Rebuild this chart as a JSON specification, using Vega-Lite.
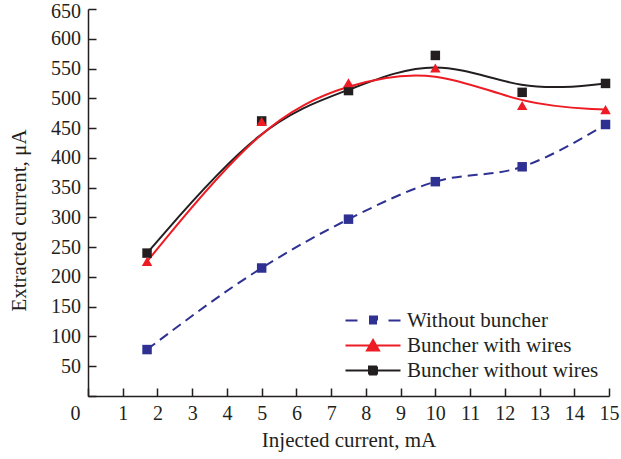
{
  "$schema": "https://vega.github.io/schema/vega-lite/v6.json",
  "width": 521,
  "height": 387,
  "autosize": {"type": "none"},
  "padding": {"left": 88, "top": 9, "right": 12, "bottom": 63},
  "background": "white",
  "config": {
    "font": "Liberation Serif",
    "view": {"stroke": null},
    "axis": {
      "grid": false,
      "domainColor": "#231f20",
      "domainWidth": 1.5,
      "tickColor": "#231f20",
      "tickWidth": 1.5,
      "labelFont": "Liberation Serif",
      "labelFontSize": 20,
      "labelColor": "#231f20",
      "titleFont": "Liberation Serif",
      "titleFontSize": 21,
      "titleFontWeight": "normal",
      "titleColor": "#231f20"
    },
    "legend": {
      "orient": "none",
      "legendX": 274.5,
      "legendY": 301,
      "labelFont": "Liberation Serif",
      "labelFontSize": 21,
      "labelColor": "#231f20",
      "labelLimit": 0,
      "labelOffset": 23.5,
      "symbolSize": 100,
      "symbolStrokeWidth": 2,
      "rowPadding": 3
    }
  },
  "data": {
    "values": [
      {"series": "Without buncher", "injected": 1.7, "extracted": 78},
      {"series": "Without buncher", "injected": 5.0, "extracted": 215},
      {"series": "Without buncher", "injected": 7.5, "extracted": 297},
      {"series": "Without buncher", "injected": 10.0, "extracted": 360},
      {"series": "Without buncher", "injected": 12.5, "extracted": 385},
      {"series": "Without buncher", "injected": 14.9, "extracted": 456},
      {"series": "Buncher with wires", "injected": 1.7, "extracted": 226},
      {"series": "Buncher with wires", "injected": 5.0, "extracted": 461},
      {"series": "Buncher with wires", "injected": 7.5, "extracted": 526},
      {"series": "Buncher with wires", "injected": 10.0, "extracted": 551},
      {"series": "Buncher with wires", "injected": 12.5, "extracted": 488},
      {"series": "Buncher with wires", "injected": 14.9, "extracted": 481},
      {"series": "Buncher without wires", "injected": 1.7, "extracted": 240},
      {"series": "Buncher without wires", "injected": 5.0, "extracted": 462},
      {"series": "Buncher without wires", "injected": 7.5, "extracted": 513},
      {"series": "Buncher without wires", "injected": 10.0, "extracted": 572},
      {"series": "Buncher without wires", "injected": 12.5, "extracted": 510},
      {"series": "Buncher without wires", "injected": 14.9, "extracted": 525}
    ]
  },
  "encoding": {
    "x": {
      "field": "injected",
      "type": "quantitative",
      "scale": {"domain": [0, 15], "nice": false},
      "axis": {
        "title": "Injected current, mA",
        "values": [0, 1, 2, 3, 4, 5, 6, 7, 8, 9, 10, 11, 12, 13, 14, 15],
        "tickSize": -8,
        "labelAngle": 0,
        "labelPadding": 15,
        "labelAlign": "center",
        "labelOffset": {"condition": {"test": "datum.value === 0", "value": -13}, "value": 0},
        "titleBaseline": "alphabetic",
        "titleY": 50
      }
    },
    "y": {
      "field": "extracted",
      "type": "quantitative",
      "scale": {"domain": [0, 650], "nice": false},
      "axis": {
        "title": "Extracted current,   μA",
        "values": [0, 50, 100, 150, 200, 250, 300, 350, 400, 450, 500, 550, 600, 650],
        "tickSize": -8,
        "labelExpr": "datum.value === 0 ? '' : datum.label",
        "labelPadding": 15.5,
        "labelOffset": {"condition": {"test": "datum.value === 650", "value": 2}, "value": 0},
        "titleBaseline": "alphabetic",
        "titleX": -63,
        "titleY": 211
      }
    },
    "color": {
      "field": "series",
      "type": "nominal",
      "scale": {
        "domain": ["Without buncher", "Buncher with wires", "Buncher without wires"],
        "range": ["#2e3192", "#ed1c24", "#231f20"]
      },
      "legend": {
        "title": null,
        "encode": {
          "symbols": {
            "update": {
              "shape": {"signal": "datum.value === 'Buncher with wires' ? 'M-5.5,0H5.5M0,-1.1L1.2,1H-1.2Z' : 'M-5.5,0H5.5M-0.8,-0.8H0.8V0.8H-0.8Z'"},
              "fill": {"signal": "scale('color', datum.value)"},
              "stroke": {"signal": "scale('color', datum.value)"},
              "strokeWidth": {"value": 2},
              "strokeDash": {"signal": "datum.value === 'Without buncher' ? [12, 31, 12, 200] : [1, 0]"},
              "opacity": {"value": 1},
              "fillOpacity": {"value": 1}
            }
          }
        }
      }
    }
  },
  "layer": [
    {
      "transform": [{"filter": "datum.series === 'Buncher without wires'"}],
      "mark": {"type": "line", "interpolate": "basis", "strokeWidth": 2}
    },
    {
      "transform": [{"filter": "datum.series === 'Buncher with wires'"}],
      "mark": {"type": "line", "interpolate": "basis", "strokeWidth": 2}
    },
    {
      "transform": [{"filter": "datum.series === 'Without buncher'"}],
      "mark": {"type": "line", "interpolate": "monotone", "strokeWidth": 2, "strokeDash": [10, 6]}
    },
    {
      "transform": [{"filter": "datum.series === 'Buncher without wires'"}],
      "mark": {"type": "point", "shape": "square", "filled": true, "size": 90, "opacity": 1}
    },
    {
      "transform": [{"filter": "datum.series === 'Buncher with wires'"}],
      "mark": {"type": "point", "shape": "triangle-up", "filled": true, "size": 110, "opacity": 1}
    },
    {
      "transform": [{"filter": "datum.series === 'Without buncher'"}],
      "mark": {"type": "point", "shape": "square", "filled": true, "size": 90, "opacity": 1}
    }
  ]
}
